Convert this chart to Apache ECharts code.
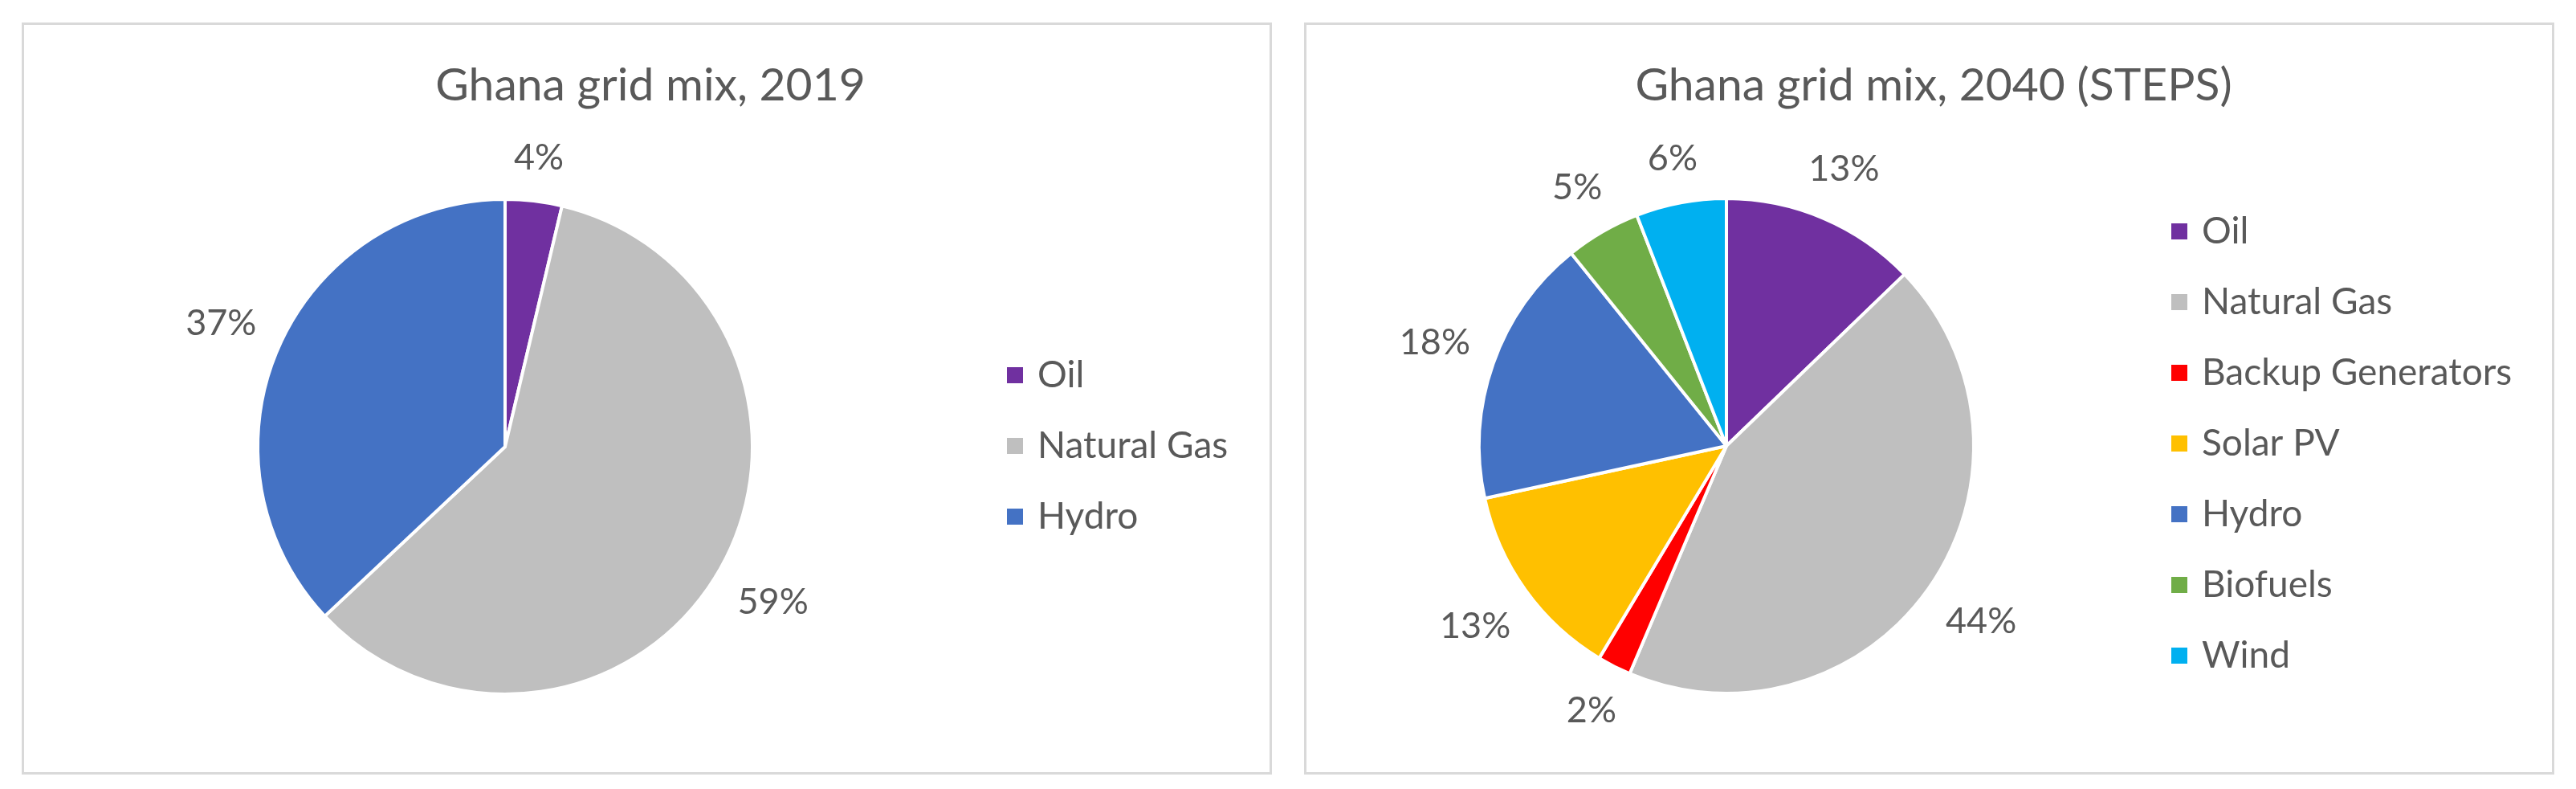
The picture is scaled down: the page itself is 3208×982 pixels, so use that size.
<!DOCTYPE html>
<html>
<head>
<meta charset="utf-8">
<title>Ghana grid mix</title>
<script src="https://cdn.jsdelivr.net/npm/echarts@6/dist/echarts.min.js"></script>
<style>
  html, body { margin: 0; padding: 0; background: #fff; }
  .chart {
    position: absolute;
    top: 28px;
    width: 1557px;
    height: 936px;
    box-sizing: border-box;
    border: 3px solid #d9d9d9;
  }
  #chart2019 { left: 27px; }
  #chart2040 { left: 1624px; }
</style>
</head>
<body>
<div id="chart2019" class="chart"></div>
<div id="chart2040" class="chart"></div>
<script>
// shares (percent of generation)
const mix2019Names = ['Oil', 'Natural Gas', 'Hydro']
const mix2019Values = [3.7, 59.3, 37.0]
const mix2019Colors = ['#7030a0', '#bfbfbf', '#4472c4']

const mix2040Names = ['Oil', 'Natural Gas', 'Backup Generators', 'Solar PV', 'Hydro', 'Biofuels', 'Wind']
const mix2040Values = [12.8, 43.6, 2.2, 13.0, 17.6, 4.9, 5.9]
const mix2040Colors = ['#7030a0', '#bfbfbf', '#ff0000', '#ffc000', '#4472c4', '#70ad47', '#00b0f0']

const textColor = '#595959'
const font = 'Lato, "Open Sans", sans-serif'
const pieRadius = 308
const labelGap = 28

// excel style "outside end": push each label out along its slice
// until its box sits labelGap px off the pie edge, text centred
const outsideEnd = (center) => (params) => {
  const r = params.labelRect
  const dx = r.x + r.width / 2 - center[0]
  const dy = r.y + r.height / 2 - center[1]
  const len = Math.hypot(dx, dy) || 1
  const ux = dx / len
  const uy = dy / len
  const dist = pieRadius + labelGap + Math.abs(ux) * r.width / 2 + Math.abs(uy) * r.height / 2
  return {
    x: center[0] + ux * dist,
    y: center[1] + uy * dist,
    align: 'center',
    verticalAlign: 'middle',
  }
}

const buildOption = ({ title, names, values, colors, center, titleX, legendLeft, legendTop }) => {
  const data = names.map((name, i) => ({ name, value: values[i] }))
  return {
    animation: false,
    color: colors,
    title: {
      text: title,
      left: titleX,
      top: 41,
      padding: 0,
      textAlign: 'center',
      textVerticalAlign: 'top',
      textStyle: {
        color: textColor,
        fontSize: 57,
        fontWeight: 'normal',
        fontFamily: font,
        lineHeight: 70,
      },
    },
    legend: {
      orient: 'vertical',
      left: legendLeft,
      top: legendTop,
      padding: 0,
      icon: 'rect',
      itemWidth: 22,
      itemHeight: 22,
      itemGap: 38,
      selectedMode: false,
      data: names,
      textStyle: {
        color: textColor,
        fontSize: 46,
        fontFamily: font,
        lineHeight: 50,
        padding: [0, 0, 0, 12],
      },
    },
    series: [
      {
        type: 'pie',
        center,
        radius: [0, pieRadius],
        data,
        silent: true,
        itemStyle: { borderColor: '#fff', borderWidth: 4 },
        label: {
          position: 'inside',
          formatter: (p) => Math.round(p.value) + '%',
          color: textColor,
          fontSize: 45,
          fontFamily: font,
        },
        labelLine: { show: false },
        labelLayout: outsideEnd(center),
        emphasis: { disabled: true },
      },
    ],
  }
}

const chart2019 = echarts.init(document.getElementById('chart2019'))
chart2019.setOption(buildOption({
  title: 'Ghana grid mix, 2019',
  names: mix2019Names,
  values: mix2019Values,
  colors: mix2019Colors,
  center: [599, 525],
  titleX: 780,
  legendLeft: 1222,
  legendTop: 411,
}))

const chart2040 = echarts.init(document.getElementById('chart2040'))
chart2040.setOption(buildOption({
  title: 'Ghana grid mix, 2040 (STEPS)',
  names: mix2040Names,
  values: mix2040Values,
  colors: mix2040Colors,
  center: [523, 524],
  titleX: 781,
  legendLeft: 1075,
  legendTop: 232,
}))
</script>
</body>
</html>
